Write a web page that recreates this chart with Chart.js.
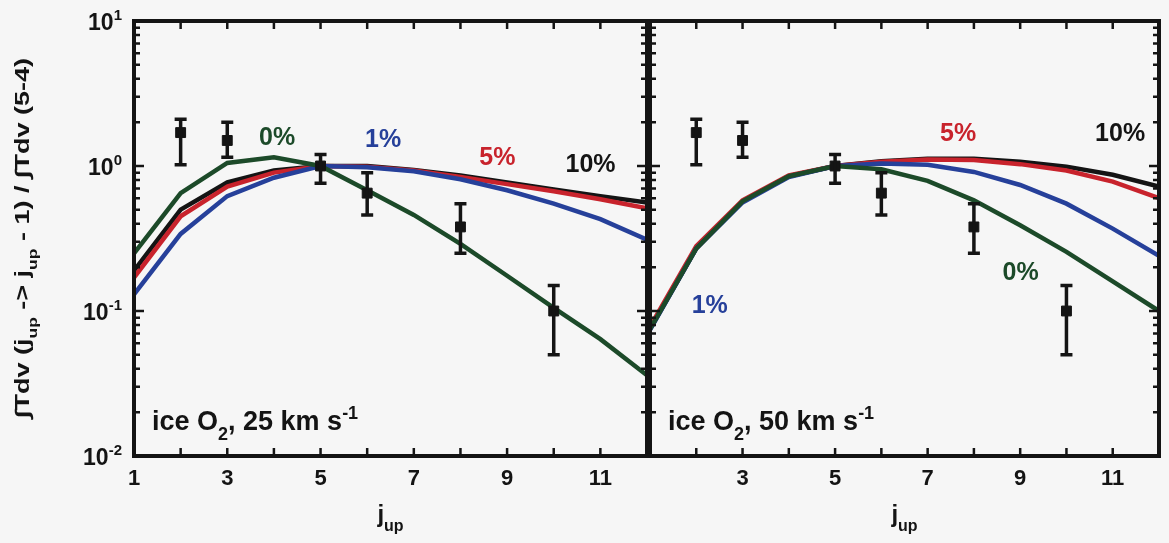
<!DOCTYPE html>
<html>
<head>
<meta charset="utf-8">
<script src="https://cdn.jsdelivr.net/npm/chart.js@4.4.1/dist/chart.umd.min.js"></script>
<style>
  body { margin: 0; background: #f6f6f6; width: 1169px; height: 543px; overflow: hidden; position: relative; }
  canvas { position: absolute; top: 0; }
  #left { left: 0; }
  #right { left: 640px; }
</style>
</head>
<body>
<canvas id="left" width="660" height="543"></canvas>
<canvas id="right" width="529" height="543"></canvas>
<script>
'use strict';

// model curves, j_up = 1..12
var jup = [1, 2, 3, 4, 5, 6, 7, 8, 9, 10, 11, 12];

// 25 km/s
var left0  = [0.25, 0.65, 1.05, 1.15, 1.0, 0.68, 0.46, 0.29, 0.175, 0.105, 0.064, 0.036];
var left1  = [0.13, 0.34, 0.62, 0.83, 1.0, 0.98, 0.92, 0.81, 0.68, 0.55, 0.43, 0.31];
var left5  = [0.17, 0.45, 0.72, 0.90, 1.0, 0.99, 0.93, 0.84, 0.75, 0.67, 0.59, 0.51];
var left10 = [0.19, 0.50, 0.77, 0.93, 1.0, 1.00, 0.94, 0.86, 0.77, 0.69, 0.62, 0.56];

// 50 km/s
var right0  = [0.075, 0.27, 0.57, 0.85, 1.0, 0.95, 0.79, 0.58, 0.39, 0.256, 0.16, 0.10];
var right1  = [0.074, 0.27, 0.56, 0.84, 1.0, 1.04, 1.02, 0.91, 0.74, 0.55, 0.37, 0.24];
var right5  = [0.078, 0.28, 0.58, 0.86, 1.0, 1.07, 1.11, 1.10, 1.03, 0.93, 0.78, 0.60];
var right10 = [0.075, 0.27, 0.57, 0.85, 1.0, 1.08, 1.12, 1.12, 1.07, 0.99, 0.87, 0.72];

// observed ratios with error bars
var obsJ    = [2, 3, 5, 6, 8, 10];
var obsVal  = [1.7, 1.5, 1.0, 0.65, 0.38, 0.10];
var obsLow  = [1.02, 1.15, 0.76, 0.46, 0.25, 0.05];
var obsHigh = [2.1, 2.0, 1.2, 0.9, 0.55, 0.15];

var yDecades = [0.01, 0.1, 1, 10];
var yLabels = [['10', '-2'], ['10', '-1'], ['10', '0'], ['10', '1']];

var GREEN = '#1c4a29', BLUE = '#26409a', RED = '#c8232c', BLACK = '#141414';
var FONT = "'Liberation Sans', Arial, Helvetica, sans-serif";

// percent tags (text, j_up, ratio)
var leftTags = [['0%', 4.07, 1.56, GREEN], ['1%', 6.34, 1.51, BLUE], ['5%', 8.79, 1.14, RED], ['10%', 10.79, 1.02, BLACK]];
var rightTags = [['5%', 7.66, 1.66, RED], ['10%', 11.16, 1.66, BLACK], ['0%', 9.01, 0.183, GREEN], ['1%', 2.29, 0.108, BLUE]];

var panels = {
    left: { tags: leftTags, speed: '25', yAxis: true, axisWidth: 134, padRight: 13, firstLabel: 1 },
    right: { tags: rightTags, speed: '50', yAxis: false, axisWidth: 7, padRight: 10, firstLabel: 3 }
};

function fontFor(mode, size) {
    var s = mode === 0 ? size : Math.round(size * 0.65);
    return 'bold ' + s + 'px ' + FONT;
}

// parts: [text, mode] with mode 0 normal, -1 subscript, 1 superscript
function richText(ctx, parts, x, y, size, align) {
    var w = 0;
    parts.forEach(function (p) { ctx.font = fontFor(p[1], size); w += ctx.measureText(p[0]).width; });
    var cx = align === 'center' ? x - w / 2 : (align === 'right' ? x - w : x);
    ctx.textAlign = 'left';
    ctx.textBaseline = 'alphabetic';
    parts.forEach(function (p) {
        ctx.font = fontFor(p[1], size);
        var dy = p[1] === -1 ? size * 0.38 : (p[1] === 1 ? -size * 0.42 : 0);
        ctx.fillText(p[0], cx, y + dy);
        cx += ctx.measureText(p[0]).width;
    });
    return w;
}

var framePlugin = {
    id: 'frame',
    afterDatasetsDraw: function (chart) {
        var panel = panels[chart.canvas.id];
        var ctx = chart.ctx, a = chart.chartArea, xs = chart.scales.x, ys = chart.scales.y;
        ctx.save();

        // error bars
        ctx.strokeStyle = BLACK;
        ctx.lineWidth = 3.5;
        obsJ.forEach(function (j, i) {
            var px = xs.getPixelForValue(j);
            var top = ys.getPixelForValue(obsHigh[i]), bot = ys.getPixelForValue(obsLow[i]);
            ctx.beginPath();
            ctx.moveTo(px, top); ctx.lineTo(px, bot);
            ctx.moveTo(px - 6, top); ctx.lineTo(px + 6, top);
            ctx.moveTo(px - 6, bot); ctx.lineTo(px + 6, bot);
            ctx.stroke();
        });

        // percent tags
        ctx.font = 'bold 25px ' + FONT;
        ctx.textAlign = 'center';
        ctx.textBaseline = 'middle';
        panel.tags.forEach(function (t) {
            ctx.fillStyle = t[3];
            ctx.fillText(t[0], xs.getPixelForValue(t[1]), ys.getPixelForValue(t[2]));
        });

        // frame
        ctx.strokeStyle = BLACK;
        ctx.lineWidth = 4;
        ctx.strokeRect(a.left, a.top, a.right - a.left, a.bottom - a.top);

        // inward ticks
        ctx.lineWidth = 2.5;
        ctx.beginPath();
        jup.forEach(function (j) {
            var px = xs.getPixelForValue(j);
            ctx.moveTo(px, a.bottom); ctx.lineTo(px, a.bottom - 8);
            ctx.moveTo(px, a.top); ctx.lineTo(px, a.top + 8);
        });
        [0.01, 0.1, 1].forEach(function (d) {
            for (var m = 1; m <= 9; m++) {
                var py = ys.getPixelForValue(d * m);
                var len = m === 1 ? 10 : 6;
                ctx.moveTo(a.left, py); ctx.lineTo(a.left + len, py);
                ctx.moveTo(a.right, py); ctx.lineTo(a.right - len, py);
            }
        });
        ctx.stroke();

        // panel label
        ctx.fillStyle = BLACK;
        richText(ctx, [['ice O', 0], ['2', -1], [', ' + panel.speed + ' km s', 0], ['-1', 1]], a.left + 18, 430, 27, 'left');

        // x title
        richText(ctx, [['j', 0], ['up', -1]], (a.left + a.right) / 2, 522, 24, 'center');

        if (panel.yAxis) {
            yDecades.forEach(function (d, i) {
                richText(ctx, [[yLabels[i][0], 0], [yLabels[i][1], 1]], 122, ys.getPixelForValue(d) + 9, 23, 'right');
            });
            // y title, rotated
            var parts = [['\u222BTdv (j', 0], ['up', -1], [' -> j', 0], ['up', -1], [' - 1) / \u222BTdv (5-4)', 0]];
            ctx.save();
            ctx.translate(29, 238);
            ctx.rotate(-Math.PI / 2);
            var w = 0;
            parts.forEach(function (p) { ctx.font = fontFor(p[1], 20); w += ctx.measureText(p[0]).width; });
            ctx.scale(360 / w, 1);
            richText(ctx, parts, 0, 0, 20, 'center');
            ctx.restore();
        }
        ctx.restore();
    }
};

function makeChart(id, series) {
    var panel = panels[id];
    var datasets = [{
        type: 'scatter',
        data: obsJ.map(function (j, i) { return { x: j, y: obsVal[i] }; }),
        pointStyle: 'rect',
        pointRadius: 7,
        backgroundColor: BLACK,
        borderColor: BLACK,
        showLine: false
    }];
    series.forEach(function (s) {
        datasets.push({
            type: 'line',
            data: jup.map(function (j, i) { return { x: j, y: s.data[i] }; }),
            borderColor: s.color,
            borderWidth: 4.5,
            pointRadius: 0,
            tension: 0,
            fill: false
        });
    });
    return new Chart(document.getElementById(id), {
        type: 'line',
        data: { datasets: datasets },
        options: {
            responsive: false,
            animation: false,
            events: [],
            layout: { padding: { top: 21, right: panel.padRight, left: 0, bottom: 0 } },
            plugins: { legend: { display: false }, tooltip: { enabled: false } },
            scales: {
                x: {
                    type: 'linear', min: 1, max: 12,
                    afterFit: function (s) { s.height = 87; },
                    grid: { display: false, drawTicks: false },
                    border: { display: false },
                    ticks: {
                        stepSize: 1, autoSkip: false, maxRotation: 0, padding: 10, color: BLACK,
                        font: { family: FONT, size: 22, weight: 'bold' },
                        callback: function (v) { return (v % 2 === 1 && v >= panel.firstLabel) ? String(v) : ''; }
                    }
                },
                y: {
                    type: 'logarithmic', min: 0.01, max: 10,
                    afterFit: function (s) { s.width = panel.axisWidth; },
                    grid: { display: false, drawTicks: false },
                    border: { display: false },
                    ticks: { display: false }
                }
            }
        },
        plugins: [framePlugin]
    });
}

makeChart('left', [
    { data: left0, color: GREEN },
    { data: left1, color: BLUE },
    { data: left5, color: RED },
    { data: left10, color: BLACK }
]);
makeChart('right', [
    { data: right0, color: GREEN },
    { data: right1, color: BLUE },
    { data: right5, color: RED },
    { data: right10, color: BLACK }
]);
</script>
</body>
</html>
